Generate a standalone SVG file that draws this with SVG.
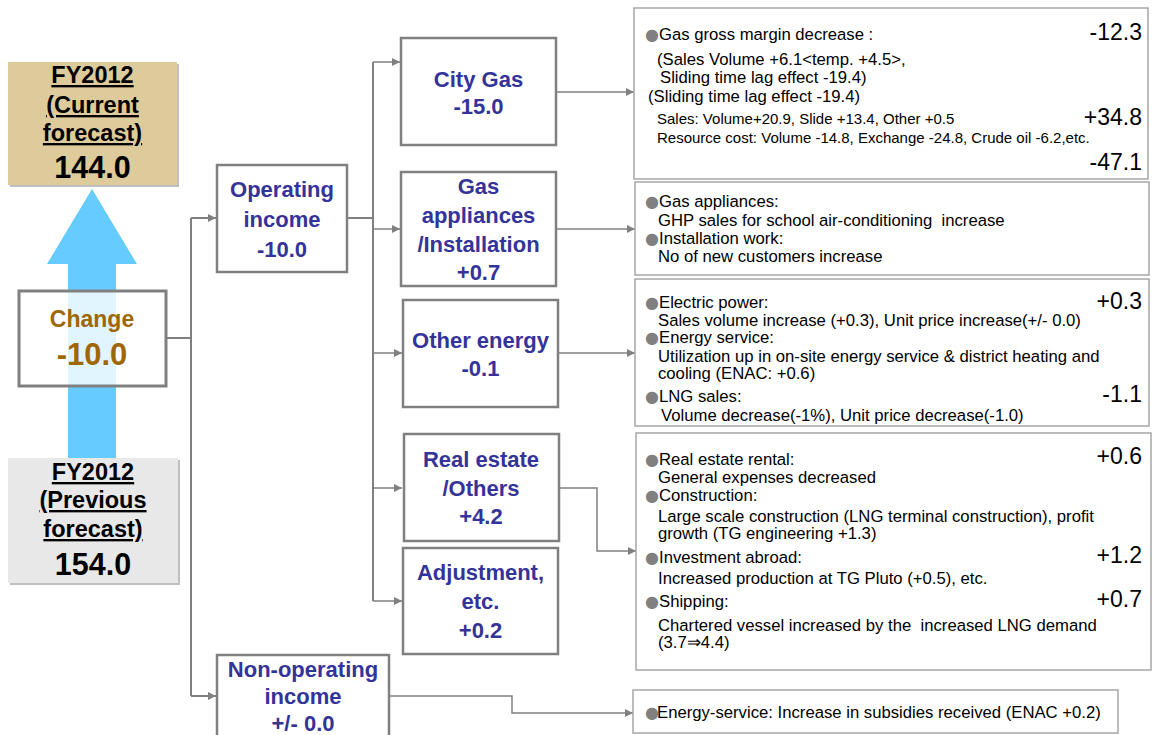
<svg xmlns="http://www.w3.org/2000/svg" width="1162" height="735" viewBox="0 0 1162 735">
<style>
.fy{font-family:"Liberation Sans",Arial,sans-serif;font-weight:bold;font-size:23.5px;fill:#000;text-anchor:middle}
.fyu{text-decoration:underline}
.fyn{font-family:"Liberation Sans",Arial,sans-serif;font-weight:bold;font-size:30.5px;fill:#000;text-anchor:middle}
.chg{font-family:"Liberation Sans",Arial,sans-serif;font-weight:bold;fill:#9E6704;text-anchor:middle}
.nb{fill:#fff;stroke:#808080;stroke-width:2.5}
.lb{font-family:"Liberation Sans",Arial,sans-serif;font-weight:bold;font-size:22px;fill:#333399;text-anchor:middle}
.db{fill:#fff;stroke:#A6A6A6;stroke-width:1.5}
.dt{font-family:"Liberation Sans",Arial,sans-serif;font-size:16.7px;fill:#000;white-space:pre}
.ds{font-family:"Liberation Sans",Arial,sans-serif;font-size:15px;fill:#000}
.dn{font-family:"Liberation Sans",Arial,sans-serif;font-size:23px;fill:#000;text-anchor:end}
.b{fill:#808080;font-family:"DejaVu Sans",sans-serif;font-size:16px}
.cn{fill:none;stroke:#808080;stroke-width:2}
.cr{fill:none;stroke:#808080;stroke-width:1.5}
</style>
<defs>
<marker id="ah" viewBox="0 0 10 10" refX="10" refY="5" markerWidth="9" markerHeight="8" markerUnits="userSpaceOnUse" orient="auto"><path d="M0,0 L10,5 L0,10 z" fill="#808080"/></marker>
</defs>
<rect width="1162" height="735" fill="#fff"/>

<g id="fy-current">
<rect x="10" y="64" width="169" height="123" fill="#BFBFBF"/>
<rect x="8" y="62" width="169" height="123" fill="#DDCB9B"/>
<text class="fy fyu" x="92.5" y="83">FY2012</text>
<text class="fy fyu" x="92.5" y="113">(Current</text>
<text class="fy fyu" x="92.5" y="141">forecast)</text>
<text class="fyn" x="92.5" y="178">144.0</text>
</g>

<g id="blue-arrow">
<polygon points="92,189 137,264 116,264 116,460 68,460 68,264 47,264" fill="#66CCFF"/>
</g>

<g id="fy-previous">
<rect x="10" y="460" width="170" height="125" fill="#BFBFBF"/>
<rect x="8" y="458" width="170" height="125" fill="#E8E8E8"/>
<text class="fy fyu" x="93" y="480">FY2012</text>
<text class="fy fyu" x="93" y="508">(Previous</text>
<text class="fy fyu" x="93" y="537">forecast)</text>
<text class="fyn" x="93" y="575">154.0</text>
</g>

<g id="change">
<rect x="19" y="291" width="147" height="95" fill="#fff" fill-opacity="0.8" stroke="#808080" stroke-width="3"/>
<text class="chg" x="92" y="327" font-size="23">Change</text>
<text class="chg" x="92" y="365" font-size="31">-10.0</text>
</g>

<g id="connectors">
<path class="cn" d="M166 338 H191"/>
<path class="cn" d="M191 218 V696"/>
<path class="cn" d="M191 218 H216" marker-end="url(#ah)"/>
<path class="cn" d="M191 696 H216" marker-end="url(#ah)"/>
<path class="cn" d="M347 218 H373"/>
<path class="cn" d="M373 62 V601"/>
<path class="cr" d="M373 62 H400" marker-end="url(#ah)"/>
<path class="cr" d="M373 229 H400" marker-end="url(#ah)"/>
<path class="cr" d="M373 353 H402" marker-end="url(#ah)"/>
<path class="cr" d="M373 488 H402" marker-end="url(#ah)"/>
<path class="cr" d="M373 601 H402" marker-end="url(#ah)"/>
<path class="cr" d="M556 92 H634" marker-end="url(#ah)"/>
<path class="cr" d="M556 229 H635" marker-end="url(#ah)"/>
<path class="cr" d="M558 353 H635" marker-end="url(#ah)"/>
<path class="cr" d="M559 488 H597 V551 H636" marker-end="url(#ah)"/>
<path class="cr" d="M389 696 H512 V713 H633" marker-end="url(#ah)"/>
</g>

<g id="operating-income">
<rect class="nb" x="217" y="165" width="130" height="107"/>
<text class="lb" x="282" y="197">Operating</text>
<text class="lb" x="282" y="227">income</text>
<text class="lb" x="282" y="257">-10.0</text>
</g>

<g id="non-operating-income">
<rect class="nb" x="217" y="655" width="172" height="90"/>
<text class="lb" x="303" y="677">Non-operating</text>
<text class="lb" x="303" y="704">income</text>
<text class="lb" x="303" y="731">+/- 0.0</text>
</g>

<g id="city-gas">
<rect class="nb" x="401" y="38" width="155" height="107"/>
<text class="lb" x="478.5" y="87">City Gas</text>
<text class="lb" x="478.5" y="114">-15.0</text>
</g>

<g id="gas-appliances">
<rect class="nb" x="401" y="172" width="155" height="114"/>
<text class="lb" x="478.5" y="194">Gas</text>
<text class="lb" x="478.5" y="223">appliances</text>
<text class="lb" x="478.5" y="252">/Installation</text>
<text class="lb" x="478.5" y="280">+0.7</text>
</g>

<g id="other-energy">
<rect class="nb" x="403" y="300" width="155" height="107"/>
<text class="lb" x="480.5" y="348">Other energy</text>
<text class="lb" x="480.5" y="376">-0.1</text>
</g>

<g id="real-estate">
<rect class="nb" x="404" y="434" width="155" height="107"/>
<text class="lb" x="481" y="467">Real estate</text>
<text class="lb" x="481" y="496">/Others</text>
<text class="lb" x="481" y="524">+4.2</text>
</g>

<g id="adjustment">
<rect class="nb" x="403" y="548" width="155" height="106"/>
<text class="lb" x="480.5" y="580">Adjustment,</text>
<text class="lb" x="480.5" y="609">etc.</text>
<text class="lb" x="480.5" y="638">+0.2</text>
</g>

<g id="detail-city-gas">
<rect class="db" x="634" y="8" width="514" height="171"/>
<text class="dt" y="40"><tspan class="b" x="645">●</tspan><tspan x="659">Gas gross margin decrease :</tspan></text>
<text class="dn" x="1142" y="40">-12.3</text>
<text class="dt" x="657" y="65">(Sales Volume +6.1&lt;temp. +4.5&gt;,</text>
<text class="dt" x="660" y="83">Sliding time lag effect -19.4)</text>
<text class="dt" x="648" y="102">(Sliding time lag effect -19.4)</text>
<text class="ds" x="657" y="124">Sales: Volume+20.9, Slide +13.4, Other +0.5</text>
<text class="dn" x="1142" y="125">+34.8</text>
<text class="ds" x="657" y="143">Resource cost: Volume -14.8, Exchange -24.8, Crude oil -6.2,etc.</text>
<text class="dn" x="1142" y="170">-47.1</text>
</g>

<g id="detail-gas-appliances">
<rect class="db" x="635" y="182" width="514" height="93"/>
<text class="dt" y="207"><tspan class="b" x="645">●</tspan><tspan x="659">Gas appliances:</tspan></text>
<text class="dt" x="658" y="226">GHP sales for school air-conditioning  increase</text>
<text class="dt" y="244"><tspan class="b" x="645">●</tspan><tspan x="659">Installation work:</tspan></text>
<text class="dt" x="658" y="262">No of new customers increase</text>
</g>

<g id="detail-other-energy">
<rect class="db" x="635" y="279" width="514" height="147"/>
<text class="dt" y="308"><tspan class="b" x="645">●</tspan><tspan x="659">Electric power:</tspan></text>
<text class="dn" x="1142" y="309">+0.3</text>
<text class="dt" x="658" y="326">Sales volume increase (+0.3), Unit price increase(+/- 0.0)</text>
<text class="dt" y="343"><tspan class="b" x="645">●</tspan><tspan x="659">Energy service:</tspan></text>
<text class="dt" x="658" y="362">Utilization up in on-site energy service &amp; district heating and</text>
<text class="dt" x="658" y="379">cooling (ENAC: +0.6)</text>
<text class="dt" y="402"><tspan class="b" x="645">●</tspan><tspan x="659">LNG sales:</tspan></text>
<text class="dn" x="1142" y="402">-1.1</text>
<text class="dt" x="661" y="421">Volume decrease(-1%), Unit price decrease(-1.0)</text>
</g>

<g id="detail-real-estate">
<rect class="db" x="636" y="433" width="515" height="237"/>
<text class="dt" y="465"><tspan class="b" x="645">●</tspan><tspan x="659">Real estate rental:</tspan></text>
<text class="dn" x="1142" y="464">+0.6</text>
<text class="dt" x="658" y="483">General expenses decreased</text>
<text class="dt" y="501"><tspan class="b" x="645">●</tspan><tspan x="659">Construction:</tspan></text>
<text class="dt" x="658" y="522">Large scale construction (LNG terminal construction), profit</text>
<text class="dt" x="658" y="539">growth (TG engineering +1.3)</text>
<text class="dt" y="563"><tspan class="b" x="645">●</tspan><tspan x="659">Investment abroad:</tspan></text>
<text class="dn" x="1142" y="563">+1.2</text>
<text class="dt" x="658" y="584">Increased production at TG Pluto (+0.5), etc.</text>
<text class="dt" y="607"><tspan class="b" x="645">●</tspan><tspan x="659">Shipping:</tspan></text>
<text class="dn" x="1142" y="607">+0.7</text>
<text class="dt" x="658" y="631">Chartered vessel increased by the  increased LNG demand</text>
<text class="dt" x="658" y="648">(3.7⇒4.4)</text>
</g>

<g id="detail-non-operating">
<rect class="db" x="633" y="690" width="485" height="43"/>
<text class="dt" y="718"><tspan class="b" x="645">●</tspan><tspan x="657">Energy-service: Increase in subsidies received (ENAC +0.2)</tspan></text>
</g>
</svg>
